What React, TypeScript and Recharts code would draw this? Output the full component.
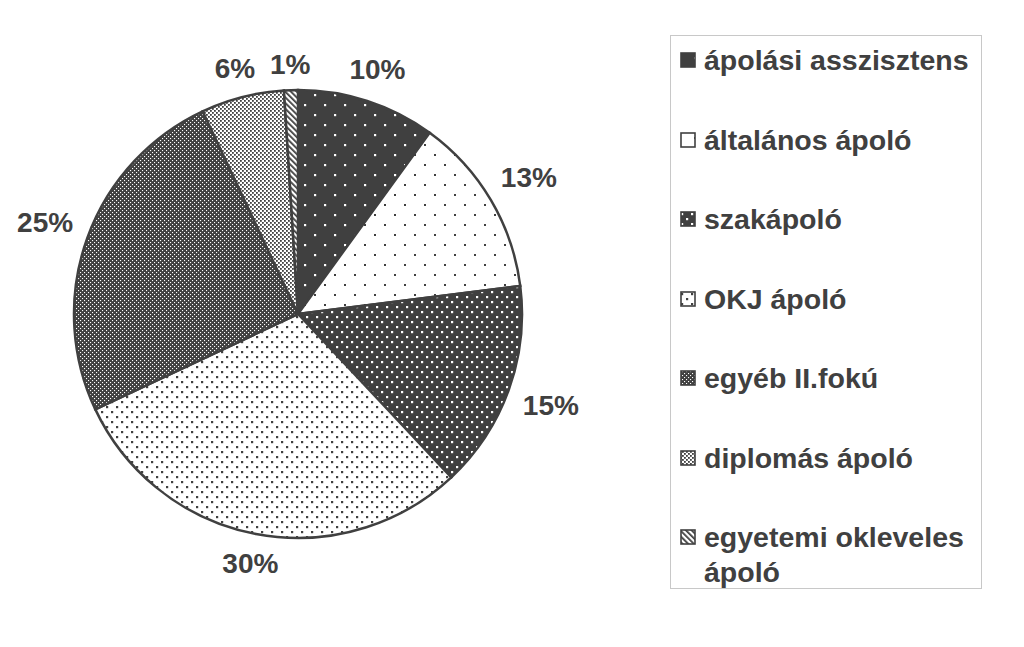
import { Cell, Legend, Pie, PieChart } from "recharts";

const categories = [
  "ápolási asszisztens",
  "általános ápoló",
  "szakápoló",
  "OKJ ápoló",
  "egyéb II.fokú",
  "diplomás ápoló",
  "egyetemi okleveles ápoló",
];
const shares = [10, 13, 15, 30, 25, 6, 1];
const patternIds = ["p1", "p2", "p3", "p4", "p5", "p6", "p7"];

const data = categories.map((name, i) => ({ name, value: shares[i] }));

const INK = "#404040";
const FONT = "'Liberation Sans', Arial, sans-serif";
const LABEL_SIZE = 28;
const RADIAN = Math.PI / 180;

// label box sits just outside the rim, like the spreadsheet's "outside end" labels
// eslint-disable-next-line @typescript-eslint/no-explicit-any
function renderLabel(props: any) {
  const { cx, cy, midAngle, outerRadius, value } = props;
  const text = `${value}%`;
  const halfW = (LABEL_SIZE * (0.556 * (text.length - 1) + 0.889)) / 2;
  const halfH = LABEL_SIZE * 0.36;
  const cos = Math.cos(-midAngle * RADIAN);
  const sin = Math.sin(-midAngle * RADIAN);
  const r = outerRadius + 15 + Math.abs(cos) * halfW + Math.abs(sin) * halfH;
  return (
    <text
      x={cx + r * cos}
      y={cy + r * sin}
      fill={INK}
      textAnchor="middle"
      dominantBaseline="central"
      fontFamily={FONT}
      fontWeight="bold"
      fontSize={LABEL_SIZE}
    >
      {text}
    </text>
  );
}

// legend keeps the data order (Recharts would sort the payload by name)
function LegendBox() {
  return (
    <div
      style={{
        position: "relative",
        width: 312,
        height: 554,
        border: "1px solid #c8c8c8",
        boxSizing: "border-box",
        background: "#fff",
        fontFamily: FONT,
        fontWeight: "bold",
        fontSize: 28.5,
        color: INK,
      }}
    >
      {categories.map((name, i) => (
        <div
          key={name}
          style={{
            position: "absolute",
            left: 9,
            top: 25 + 79.5 * i - 18,
            width: 300,
            display: "flex",
            alignItems: "flex-start",
            lineHeight: "35px",
          }}
        >
          <svg width={17} height={35} style={{ flex: "none", marginRight: 7 }}>
            <rect
              x={1}
              y={10}
              width={14}
              height={14}
              fill={`url(#${patternIds[i]})`}
              stroke={INK}
              strokeWidth={1.6}
            />
          </svg>
          <span>{name}</span>
        </div>
      ))}
    </div>
  );
}

export default function App() {
  return (
    <div style={{ position: "absolute", left: 0, top: 0, width: 1024, height: 647, background: "#fff" }}>
      <PieChart width={1024} height={647} margin={{ top: 0, right: 0, bottom: 0, left: 0 }}>
        <defs>
          <pattern id="p1" width={20} height={20} patternUnits="userSpaceOnUse">
            <rect width={20} height={20} fill={INK} />
            <rect x={4} y={4} width={2.2} height={2.2} fill="#fff" />
            <rect x={14} y={14} width={2.2} height={2.2} fill="#fff" />
          </pattern>
          <pattern id="p2" width={20} height={20} patternUnits="userSpaceOnUse">
            <rect width={20} height={20} fill="#fff" />
            <rect x={4} y={4} width={2} height={2} fill={INK} />
            <rect x={14} y={14} width={2} height={2} fill={INK} />
          </pattern>
          <pattern id="p3" width={10} height={10} patternUnits="userSpaceOnUse">
            <rect width={10} height={10} fill={INK} />
            <rect x={1} y={1} width={2.2} height={2.2} fill="#fff" />
            <rect x={6} y={6} width={2.2} height={2.2} fill="#fff" />
          </pattern>
          <pattern id="p4" width={10} height={10} patternUnits="userSpaceOnUse">
            <rect width={10} height={10} fill="#fff" />
            <rect x={1} y={1} width={2.2} height={2.2} fill={INK} />
            <rect x={6} y={6} width={2.2} height={2.2} fill={INK} />
          </pattern>
          <pattern id="p5" width={4} height={4} patternUnits="userSpaceOnUse">
            <rect width={4} height={4} fill={INK} />
            <rect x={0} y={0} width={1.1} height={1.1} fill="#fff" />
            <rect x={2} y={2} width={1.1} height={1.1} fill="#fff" />
          </pattern>
          <pattern id="p6" width={4} height={4} patternUnits="userSpaceOnUse">
            <rect width={4} height={4} fill="#fff" />
            <rect x={0} y={0} width={1.8} height={1.8} fill={INK} />
            <rect x={2} y={2} width={1.8} height={1.8} fill={INK} />
          </pattern>
          <pattern
            id="p7"
            width={4}
            height={4}
            patternUnits="userSpaceOnUse"
            patternTransform="rotate(-45)"
          >
            <rect width={4} height={4} fill="#fff" />
            <rect x={0} y={0} width={1.8} height={4} fill={INK} />
          </pattern>
        </defs>
        <Pie
          data={data}
          dataKey="value"
          nameKey="name"
          cx={298}
          cy={314}
          outerRadius={224}
          startAngle={90}
          endAngle={-270}
          stroke={INK}
          strokeWidth={2.5}
          label={renderLabel}
          labelLine={false}
          isAnimationActive={false}
        >
          {data.map((d, i) => (
            <Cell key={d.name} fill={`url(#${patternIds[i]})`} stroke={INK} strokeWidth={2.5} />
          ))}
        </Pie>
        <Legend
          layout="vertical"
          align="right"
          verticalAlign="top"
          content={<LegendBox />}
          wrapperStyle={{ left: 670, top: 35, width: 312, height: 554 }}
        />
      </PieChart>
    </div>
  );
}
